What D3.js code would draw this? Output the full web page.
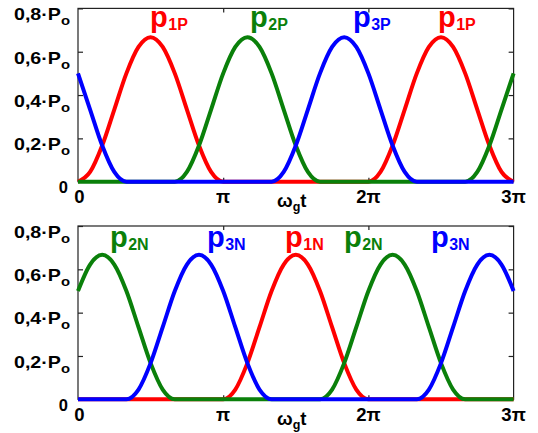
<!DOCTYPE html>
<html><head><meta charset="utf-8">
<script src="https://cdn.jsdelivr.net/npm/d3@7"></script>
<style>
body{margin:0;background:#fff}
text{font-family:"Liberation Sans",Arial,Helvetica,sans-serif;font-weight:bold}
</style>
</head><body>
<svg id="c" width="538" height="433"></svg>
<script>
// x grid: samples every π/12 over [0, 3π], x expressed in units of π
const sampleStep = 1 / 12;
const xTickValues = [0, 1, 2, 3];
const xTickLabels = ["0", "π", "2π", "3π"];
const yTickValues = [0.2, 0.4, 0.6, 0.8];
const yTickLabels = ["0,2·P", "0,4·P", "0,6·P", "0,8·P"];
const ySubLabel = "o";

const p1P = [0,.045,.167,.333,.5,.622,.667,.622,.5,.333,.167,.045,0, 0,0,0,0,0,0,0,0,0,0,0, 0,.045,.167,.333,.5,.622,.667,.622,.5,.333,.167,.045,0];
const p2P = [0,0,0,0,0,0,0,0, 0,.045,.167,.333,.5,.622,.667,.622,.5,.333,.167,.045,0, 0,0,0,0,0,0,0,0,0,0,0, 0,.045,.167,.333,.5];
const p3P = [.5,.333,.167,.045,0, 0,0,0,0,0,0,0,0,0,0,0, 0,.045,.167,.333,.5,.622,.667,.622,.5,.333,.167,.045,0, 0,0,0,0,0,0,0,0];

const p1N = [0,0,0,0,0,0,0,0,0,0,0,0, 0,.045,.167,.333,.5,.622,.667,.622,.5,.333,.167,.045,0, 0,0,0,0,0,0,0,0,0,0,0,0];
const p2N = [.5,.622,.667,.622,.5,.333,.167,.045,0, 0,0,0,0,0,0,0,0,0,0,0, 0,.045,.167,.333,.5,.622,.667,.622,.5,.333,.167,.045,0, 0,0,0,0];
const p3N = [0,0,0,0, 0,.045,.167,.333,.5,.622,.667,.622,.5,.333,.167,.045,0, 0,0,0,0,0,0,0,0,0,0,0, 0,.045,.167,.333,.5,.622,.667,.622,.5];

const colors = {"1": "#ff0000", "2": "#0a800a", "3": "#0000ff"};

const topSeries = [{sub:"1P", phase:"1", v:p1P}, {sub:"2P", phase:"2", v:p2P}, {sub:"3P", phase:"3", v:p3P}];
const botSeries = [{sub:"1N", phase:"1", v:p1N}, {sub:"2N", phase:"2", v:p2N}, {sub:"3N", phase:"3", v:p3N}];

// series label anchors (x in π units, y in Po units)
const topLabels = [{sub:"1P", phase:"1", x:0.496, y:0.714}, {sub:"2P", phase:"2", x:1.185, y:0.714},
                   {sub:"3P", phase:"3", x:1.894, y:0.714}, {sub:"1P", phase:"1", x:2.479, y:0.714}];
const botLabels = [{sub:"2N", phase:"2", x:0.220, y:0.703}, {sub:"3N", phase:"3", x:0.888, y:0.703},
                   {sub:"1N", phase:"1", x:1.426, y:0.703}, {sub:"2N", phase:"2", x:1.832, y:0.703},
                   {sub:"3N", phase:"3", x:2.431, y:0.703}];

const svg = d3.select("#c");
const x = d3.scaleLinear().domain([0, 3]).range([78, 513.6]);

function panel(series, labels, y0, y1) {
  const y = d3.scaleLinear().domain([0, 0.8]).range([y0, y1]);
  const g = svg.append("g");

  // frame
  g.append("rect").attr("x", x(0)).attr("y", y(0.8))
    .attr("width", x(3) - x(0)).attr("height", y(0) - y(0.8))
    .attr("fill", "none").attr("stroke", "#222").attr("stroke-width", 1.2);

  // ticks (inward)
  const axL = d3.axisRight(y).tickValues(yTickValues).tickSize(5).tickFormat("").tickSizeOuter(0);
  const axR = d3.axisLeft(y).tickValues(yTickValues).tickSize(5).tickFormat("").tickSizeOuter(0);
  const axB = d3.axisTop(x).tickValues([1, 2]).tickSize(4).tickFormat("").tickSizeOuter(0);
  const axT = d3.axisBottom(x).tickValues([1, 2]).tickSize(4).tickFormat("").tickSizeOuter(0);
  [[axL, `translate(${x(0)},0)`], [axR, `translate(${x(3)},0)`],
   [axB, `translate(0,${y(0)})`], [axT, `translate(0,${y(0.8)})`]].forEach(([a, t]) => {
    const ag = g.append("g").attr("transform", t).call(a);
    ag.select(".domain").remove();
    ag.selectAll("line").attr("stroke", "#222").attr("stroke-width", 1.2);
  });

  // y tick labels
  yTickValues.forEach((v, i) => {
    const t = g.append("text").attr("x", 70).attr("y", y(v) + 11.8)
      .attr("text-anchor", "end").attr("font-size", 16.5)
      .attr("textLength", 56).attr("lengthAdjust", "spacingAndGlyphs");
    t.append("tspan").text(yTickLabels[i]);
    t.append("tspan").attr("font-size", 12.5).attr("dy", 5).text(ySubLabel);
  });
  g.append("text").attr("x", 68).attr("y", y(0) + 11.5).attr("text-anchor", "end")
    .attr("font-size", 16.5).text("0");

  // x tick labels
  xTickValues.forEach((v, i) => {
    g.append("text").attr("x", x(v) + (i === 0 ? 1.5 : 0)).attr("y", y(0) + 21.5)
      .attr("text-anchor", "middle").attr("font-size", 18.5).text(xTickLabels[i]);
  });
  const xl = g.append("text").attr("x", 277).attr("y", y(0) + 25.5).attr("font-size", 18.5);
  xl.append("tspan").text("ω");
  xl.append("tspan").attr("font-size", 12.5).attr("dy", 4).text("g");
  xl.append("tspan").attr("dy", -4).text("t");

  // curves
  const line = d3.line().x((d, i) => x(i * sampleStep)).y(d => y(d)).curve(d3.curveMonotoneX);
  series.forEach(s => {
    g.append("path").datum(s.v).attr("d", line).attr("fill", "none")
      .attr("stroke", colors[s.phase]).attr("stroke-width", 4)
      .attr("stroke-linejoin", "round").attr("stroke-linecap", "butt");
  });

  // series labels
  labels.forEach(l => {
    const t = g.append("text").attr("x", x(l.x)).attr("y", y(l.y)).attr("fill", colors[l.phase]);
    t.append("tspan").attr("font-size", 29).text("p");
    t.append("tspan").attr("font-size", 16).attr("dy", 3).attr("dx", 0.5).text(l.sub);
  });
}

panel(topSeries, topLabels, 181.7, 8.4);
panel(botSeries, botLabels, 399.3, 226);
</script>
</body></html>
